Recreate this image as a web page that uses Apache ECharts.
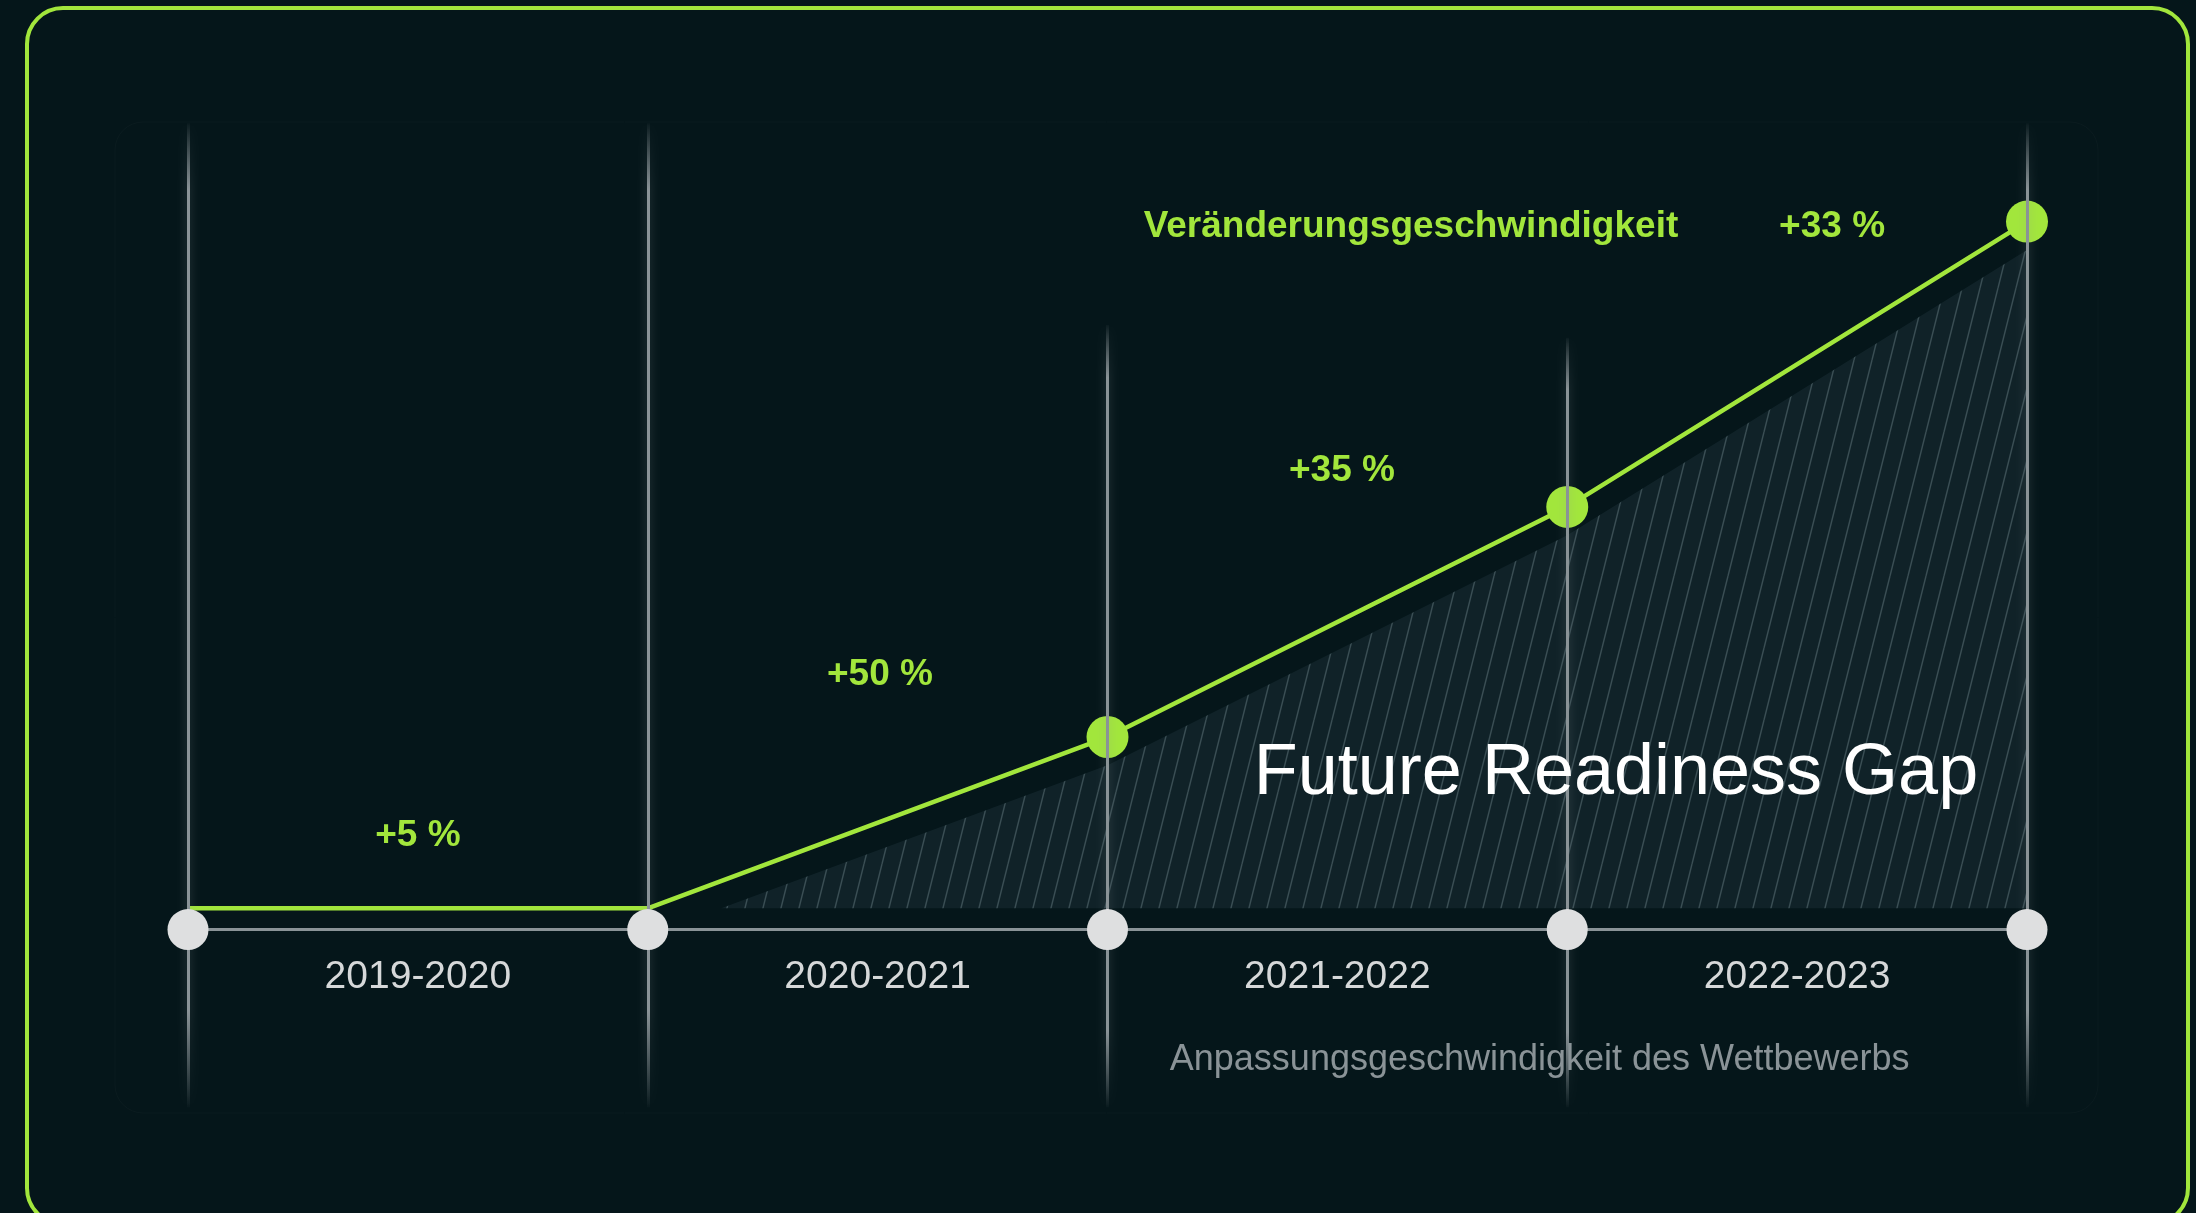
<!DOCTYPE html>
<html>
<head>
<meta charset="utf-8">
<script src="https://cdn.jsdelivr.net/npm/echarts@6/dist/echarts.min.js"></script>
<style>
html, body { margin: 0; padding: 0; background: #05161a; }
#chart { width: 2196px; height: 1213px; }
</style>
</head>
<body>
<div id="chart"></div>
<script>
// periods on the bottom axis, boundaries between them
const periods = ['2019-2020', '2020-2021', '2021-2022', '2022-2023']
const boundaryX = [0, 1, 2, 3, 4]

// green "speed of change" line (index units)
const speedValues = [3, 3, 27.2, 59.7, 100]

// hatched gap area, sits a bit under the green line
const gapX = [1.16, 2, 3, 4]
const gapValues = [3, 23.2, 55.7, 96]
const gapBase = 3

// growth labels per period
const growthLabels = ['+5 %', '+50 %', '+35 %', '+33 %']
const growthX = [0.5, 1.505, 2.51, 3.576]
const growthY = [13.3, 36, 64.8, 99.2]

// other texts
const noteTexts = ['Veränderungsgeschwindigkeit', 'Future Readiness Gap', 'Anpassungsgeschwindigkeit des Wettbewerbs']
const noteX = [2.66, 3.106, 2.94]
const noteY = [99.2, 22, -18.4]

// vertical guide lines: top / bottom extent
const guideTop = [113.9, 113.9, 85.4, 83.6, 113.9]
const guideBottom = -25.1

const GREEN = '#a2e63c'
const GREY_LINE = '#8a9397'

const makeHatch = () => {
    const c = document.createElement('canvas')
    const w = 18
    const h = 72
    c.width = w
    c.height = h
    const ctx = c.getContext('2d')
    ctx.fillStyle = 'rgba(26, 46, 52, 0.55)'
    ctx.fillRect(0, 0, w, h)
    ctx.strokeStyle = 'rgba(130, 150, 156, 0.38)'
    ctx.lineWidth = 1.4
    for (const dx of [-w, 0, w]) {
        ctx.beginPath()
        ctx.moveTo(dx, h)
        ctx.lineTo(dx + w, 0)
        ctx.stroke()
    }
    return c
}

const chart = echarts.init(document.getElementById('chart'))

const guideColor = new echarts.graphic.LinearGradient(0, 0, 0, 1, [
    { offset: 0, color: 'rgba(138,147,151,0)' },
    { offset: 0.07, color: 'rgba(138,147,151,1)' },
    { offset: 0.9, color: 'rgba(138,147,151,1)' },
    { offset: 1, color: 'rgba(138,147,151,0)' },
])

const growthStyle = {
    color: GREEN,
    fontFamily: 'Liberation Sans',
    fontWeight: 'bold',
    fontSize: 37,
}

const noteStyles = [
    { color: GREEN, fontFamily: 'Liberation Sans', fontWeight: 'bold', fontSize: 37 },
    { color: '#ffffff', fontFamily: 'Liberation Sans', fontWeight: 'normal', fontSize: 72 },
    { color: '#8a9397', fontFamily: 'Liberation Sans', fontWeight: 'normal', fontSize: 36 },
]

chart.setOption({
    backgroundColor: '#05161a',
    animation: false,
    graphic: [
        {
            type: 'rect',
            shape: { x: 27, y: 8, width: 2161, height: 1216, r: 36 },
            style: { fill: null, stroke: GREEN, lineWidth: 4 },
            z: 100,
        },
        {
            type: 'rect',
            shape: { x: 115, y: 122, width: 1983, height: 991, r: 28 },
            style: { fill: null, stroke: 'rgba(160,175,180,0.035)', lineWidth: 1 },
            z: -1,
        },
    ],
    grid: [
        // main plot, value range reaches below the axis line
        { left: 188, width: 1839, top: 80, height: 1062 },
        // holder for the period labels, bottom edge on the axis line
        { left: 188, width: 1839, top: 80, height: 849.6 },
    ],
    xAxis: [
        {
            type: 'value',
            gridIndex: 0,
            min: 0,
            max: 4,
            show: false,
        },
        {
            type: 'category',
            gridIndex: 1,
            data: periods,
            boundaryGap: true,
            axisLine: { show: false },
            axisTick: { show: false },
            splitLine: { show: false },
            axisLabel: {
                color: '#d6d8d9',
                fontFamily: 'Liberation Sans',
                fontSize: 39,
                margin: 28,
            },
        },
    ],
    yAxis: [
        { type: 'value', gridIndex: 0, min: -30, max: 120, show: false },
        { type: 'value', gridIndex: 1, min: 0, max: 1, show: false },
    ],
    series: [
        {
            name: 'axis',
            type: 'line',
            showSymbol: false,
            silent: true,
            lineStyle: { color: GREY_LINE, width: 3 },
            data: [[boundaryX[0], 0], [boundaryX[boundaryX.length - 1], 0]],
            z: 1,
        },
        {
            name: 'gap',
            type: 'line',
            showSymbol: false,
            lineStyle: { width: 0 },
            areaStyle: {
                origin: gapBase,
                opacity: 1,
                color: { image: makeHatch(), repeat: 'repeat' },
            },
            data: gapX.map((x, i) => [x, gapValues[i]]),
            markLine: {
                silent: true,
                symbol: 'none',
                label: { show: false },
                lineStyle: {
                    type: 'solid',
                    color: guideColor,
                    width: 3,
                    shadowBlur: 10,
                    shadowColor: 'rgba(138,147,151,0.4)',
                },
                emphasis: { disabled: true },
                data: boundaryX.map((x, i) => [
                    { coord: [x, guideBottom] },
                    { coord: [x, guideTop[i]] },
                ]),
            },
            z: 2,
        },
        {
            name: 'speed',
            type: 'line',
            showAllSymbol: true,
            lineStyle: { color: GREEN, width: 4.5 },
            itemStyle: { color: GREEN, opacity: 1 },
            symbolSize: 42,
            data: speedValues.map((v, i) => ({
                value: [boundaryX[i], v],
                symbol: i < 2 ? 'none' : 'circle',
            })),
            z: 4,
        },
        {
            name: 'axis dots',
            type: 'scatter',
            symbolSize: 41,
            itemStyle: { color: '#dedfe0', opacity: 1 },
            data: boundaryX.map(x => [x, 0]),
            z: 5,
        },
        {
            name: 'growth',
            type: 'scatter',
            symbolSize: 0,
            silent: true,
            itemStyle: { opacity: 1 },
            label: {
                show: true,
                position: 'inside',
                formatter: p => growthLabels[p.dataIndex],
                ...growthStyle,
            },
            data: growthX.map((x, i) => [x, growthY[i]]),
            z: 6,
        },
        {
            name: 'notes',
            type: 'scatter',
            symbolSize: 0,
            silent: true,
            itemStyle: { opacity: 1 },
            data: noteX.map((x, i) => ({
                value: [x, noteY[i]],
                label: {
                    show: true,
                    position: 'inside',
                    formatter: noteTexts[i],
                    ...noteStyles[i],
                },
            })),
            z: 6,
        },
    ],
})
</script>
</body>
</html>
